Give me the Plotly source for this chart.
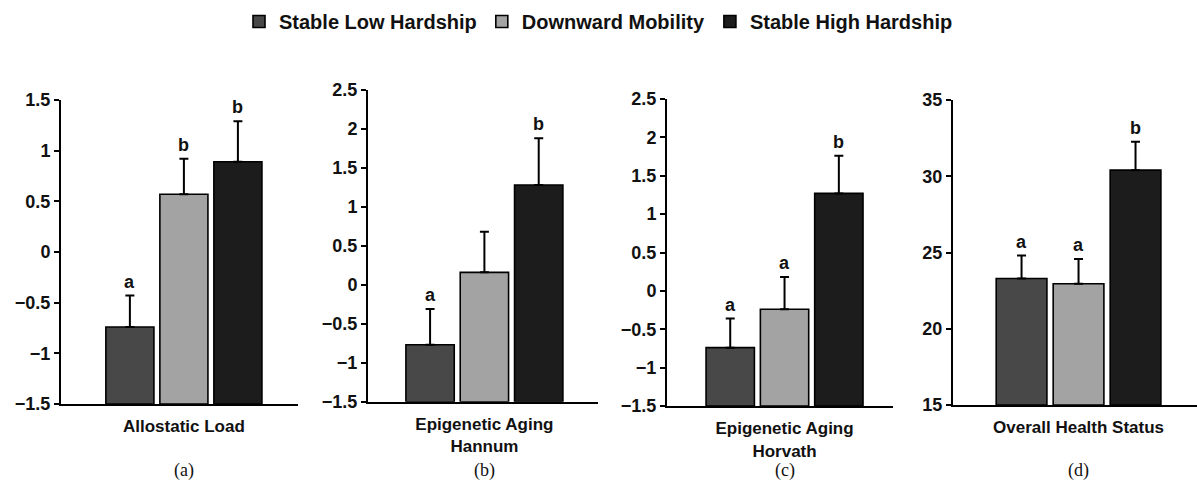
import plotly.graph_objects as go

# ---------------- data ----------------
categories = ["Allostatic Load", "Epigenetic Aging<br>Hannum",
              "Epigenetic Aging<br>Horvath", "Overall Health Status"]
panel_labels = ["(a)", "(b)", "(c)", "(d)"]
series_names = ["Stable Low Hardship", "Downward Mobility", "Stable High Hardship"]

low_vals = [-0.74, -0.77, -0.74, 23.3]
low_err = [0.31, 0.46, 0.38, 1.5]
low_letters = ["a", "a", "a", "a"]

down_vals = [0.57, 0.16, -0.24, 22.95]
down_err = [0.35, 0.52, 0.42, 1.62]
down_letters = ["b", "", "a", "a"]

high_vals = [0.89, 1.28, 1.27, 30.4]
high_err = [0.40, 0.60, 0.49, 1.86]
high_letters = ["b", "b", "b", "b"]

y_ranges = [[-1.5, 1.5], [-1.5, 2.5], [-1.5, 2.5], [15, 35]]
y_dticks = [0.5, 0.5, 0.5, 5]

# ---------------- style / layout ----------------
W, H = 1197, 494
colors = ["#484848", "#a3a3a3", "#1c1c1c"]
FONT = "Liberation Sans, Arial, sans-serif"

px_x = [(61, 298), (368, 598), (667, 893), (953, 1197)]
px_y = [(100, 404), (90, 401.7), (99, 406), (100, 405)]
x_ranges = [[-0.531, 0.493], [-0.50, 0.488], [-0.505, 0.466], [-0.514, 0.485]]

bargap = 0.3
bargroupgap = 0.11

all_vals = [low_vals, down_vals, high_vals]
all_errs = [low_err, down_err, high_err]
all_letters = [low_letters, down_letters, high_letters]

fig = go.Figure()
annotations = []
layout_axes = {}

for p in range(4):
    xa = "x" if p == 0 else f"x{p+1}"
    ya = "y" if p == 0 else f"y{p+1}"
    base = y_ranges[p][0]
    for s in range(3):
        v = all_vals[s][p]
        e = all_errs[s][p]
        fig.add_trace(go.Bar(
            x=[categories[p]], y=[v - base], base=base,
            name=series_names[s], legendgroup=series_names[s],
            showlegend=(p == 0),
            marker=dict(color=colors[s], line=dict(color="#000000", width=1.6)),
            error_y=dict(type="data", array=[e], arrayminus=[0], symmetric=False,
                         color="#000000", thickness=2, width=4.5),
            xaxis=xa, yaxis=ya,
        ))
        letter = all_letters[s][p]
        if letter:
            off = (s - 1) * (1 - bargap) / 3
            annotations.append(dict(
                x=off, y=v + e, xref=xa, yref=ya, text=letter, showarrow=False,
                yanchor="bottom", yshift=2,
                font=dict(family=FONT, size=18, color="#111111", weight="bold")))
    annotations.append(dict(
        x=0, y=1 - 470 / H, xref=xa, yref="paper", text=panel_labels[p],
        showarrow=False, yanchor="middle",
        font=dict(family="Liberation Serif, Times New Roman, serif", size=18, color="#111111")))

    xkey = "xaxis" if p == 0 else f"xaxis{p+1}"
    ykey = "yaxis" if p == 0 else f"yaxis{p+1}"
    layout_axes[xkey] = dict(
        domain=[px_x[p][0] / W, px_x[p][1] / W], anchor=ya,
        type="category", range=x_ranges[p], automargin=False,
        showline=True, linewidth=2, linecolor="#000000",
        ticks="", showgrid=False, zeroline=False, ticklabelstandoff=6,
        tickfont=dict(family=FONT, size=17, color="#111111", weight="bold"),
    )
    layout_axes[ykey] = dict(
        domain=[1 - px_y[p][1] / H, 1 - px_y[p][0] / H], anchor=xa,
        range=y_ranges[p], dtick=y_dticks[p], tick0=y_ranges[p][0], automargin=False,
        showline=True, linewidth=2, linecolor="#000000",
        ticks="outside", ticklen=5, tickwidth=2, tickcolor="#000000",
        showgrid=False, zeroline=False,
        tickfont=dict(family=FONT, size=18, color="#111111", weight="bold"),
    )

fig.update_layout(
    width=W, height=H,
    margin=dict(l=0, r=0, t=0, b=0),
    paper_bgcolor="white", plot_bgcolor="white",
    barmode="group", bargap=bargap, bargroupgap=bargroupgap,
    showlegend=True,
    legend=dict(orientation="h", x=0.5, xanchor="center", y=1 - 2 / H, yanchor="top",
                font=dict(family=FONT, size=20, color="#111111", weight="bold"),
                itemclick=False, itemdoubleclick=False, tracegroupgap=0),
    annotations=annotations,
    **layout_axes,
)

fig.write_html("out.html", config={"displayModeBar": False},
               post_script="document.body.style.margin='0';")
